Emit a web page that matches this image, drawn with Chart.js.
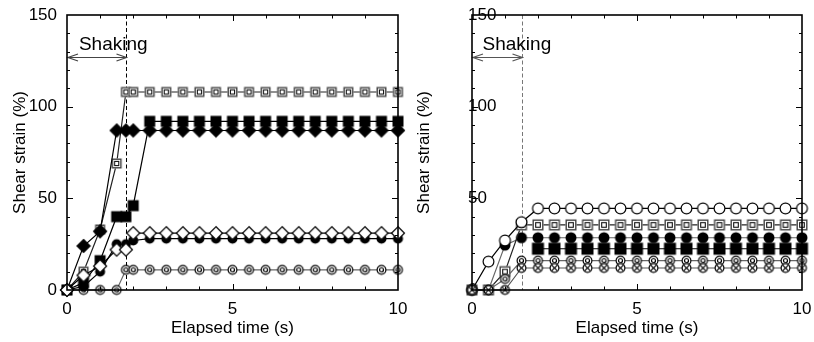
<!DOCTYPE html>
<html>
<head>
<meta charset="utf-8">
<script src="https://cdn.jsdelivr.net/npm/chart.js@4.4.1/dist/chart.umd.min.js"></script>
<style>
  body { margin: 0; background: #fff; }
  #wrap { position: relative; width: 814px; height: 342px; overflow: hidden; background: #fff; }
  canvas { position: absolute; top: 0; }
</style>
</head>
<body>
<div id="wrap">
  <canvas id="chartLeft" width="410" height="342" style="left:0"></canvas>
  <canvas id="chartRight" width="404" height="342" style="left:410px"></canvas>
</div>
<script>
// Tiempos de lectura (s)
const timeLeft = [0, 0.5, 1, 1.5, 1.78, 2, 2.5, 3, 3.5, 4, 4.5, 5, 5.5, 6, 6.5, 7, 7.5, 8, 8.5, 9, 9.5, 10];
const timeRight = [0, 0.5, 1, 1.5, 2, 2.5, 3, 3.5, 4, 4.5, 5, 5.5, 6, 6.5, 7, 7.5, 8, 8.5, 9, 9.5, 10];

// Panel izquierdo: deformacion por corte (%)
const dSquareL  = [0, 10, 33, 69, 108, 108, 108, 108, 108, 108, 108, 108, 108, 108, 108, 108, 108, 108, 108, 108, 108, 108];
const fDiamondL = [0, 24, 32, 87, 87, 87, 87, 87, 87, 87, 87, 87, 87, 87, 87, 87, 87, 87, 87, 87, 87, 87];
const fSquareL  = [0, 4, 16, 40, 40, 46, 92, 92, 92, 92, 92, 92, 92, 92, 92, 92, 92, 92, 92, 92, 92, 92];
const fCircleL  = [0, 2, 10, 25, 25, 27, 28, 28, 28, 28, 28, 28, 28, 28, 28, 28, 28, 28, 28, 28, 28, 28];
const oDiamondL = [0, 8, 13, 22, 22, 31, 31, 31, 31, 31, 31, 31, 31, 31, 31, 31, 31, 31, 31, 31, 31, 31];
const bullL     = [0, 0, 0, 0, 11, 11, 11, 11, 11, 11, 11, 11, 11, 11, 11, 11, 11, 11, 11, 11, 11, 11];

// Panel derecho
const oCircleR = [0, 15.5, 27, 37, 44.5, 44.5, 44.5, 44.5, 44.5, 44.5, 44.5, 44.5, 44.5, 44.5, 44.5, 44.5, 44.5, 44.5, 44.5, 44.5, 44.5];
const dSquareR = [0, 0, 10, 35.5, 35.5, 35.5, 35.5, 35.5, 35.5, 35.5, 35.5, 35.5, 35.5, 35.5, 35.5, 35.5, 35.5, 35.5, 35.5, 35.5, 35.5];
const fCircleR = [0, 0, 24.5, 28.5, 28.5, 28.5, 28.5, 28.5, 28.5, 28.5, 28.5, 28.5, 28.5, 28.5, 28.5, 28.5, 28.5, 28.5, 28.5, 28.5, 28.5];
const fSquareR = [null, null, null, null, 22.5, 22.5, 22.5, 22.5, 22.5, 22.5, 22.5, 22.5, 22.5, 22.5, 22.5, 22.5, 22.5, 22.5, 22.5, 22.5, 22.5];
const bullR    = [0, 0, 6, 16, 16, 16, 16, 16, 16, 16, 16, 16, 16, 16, 16, 16, 16, 16, 16, 16, 16];
const crossR   = [0, 0, 0, 12, 12, 12, 12, 12, 12, 12, 12, 12, 12, 12, 12, 12, 12, 12, 12, 12, 12];

// Etiquetas de los ejes
const xTicks = [0, 5, 10];
const yTicks = [0, 50, 100, 150];
const shakeEndLeft = 1.78;
const shakeEndRight = 1.5;

Chart.defaults.font.family = '"Liberation Sans", Arial, sans-serif';
Chart.defaults.color = "#000";

// Marcadores dibujados en un canvas pequeno
function marker(d, draw) {
  const s = Math.ceil(d) + 3;
  const c = document.createElement("canvas");
  c.width = s;
  c.height = s;
  const g = c.getContext("2d");
  draw(g, s / 2, d / 2);
  return c;
}

const mk = {
  openCircle: (d) => marker(d, (g, c, r) => {
    g.beginPath(); g.arc(c, c, r - 0.6, 0, Math.PI * 2);
    g.fillStyle = "#fff"; g.fill(); g.strokeStyle = "#000"; g.lineWidth = 1.2; g.stroke();
  }),
  fillCircle: (d) => marker(d, (g, c, r) => {
    g.beginPath(); g.arc(c, c, r, 0, Math.PI * 2);
    g.fillStyle = "#000"; g.fill();
  }),
  bull: (d) => marker(d, (g, c, r) => {
    g.beginPath(); g.arc(c, c, r - 0.6, 0, Math.PI * 2);
    g.fillStyle = "#fff"; g.fill(); g.strokeStyle = "#000"; g.lineWidth = 1.2; g.stroke();
    g.beginPath(); g.arc(c, c, r * 0.4, 0, Math.PI * 2); g.stroke();
  }),
  cross: (d) => marker(d, (g, c, r) => {
    g.beginPath(); g.arc(c, c, r - 0.6, 0, Math.PI * 2);
    g.fillStyle = "#fff"; g.fill(); g.strokeStyle = "#000"; g.lineWidth = 1.2; g.stroke();
    const k = (r - 0.6) * Math.SQRT1_2;
    g.beginPath();
    g.moveTo(c - k, c - k); g.lineTo(c + k, c + k);
    g.moveTo(c + k, c - k); g.lineTo(c - k, c + k);
    g.stroke();
  }),
  dSquare: (d) => marker(d, (g, c, r) => {
    g.fillStyle = "#fff"; g.fillRect(c - r, c - r, 2 * r, 2 * r);
    g.strokeStyle = "#444"; g.lineWidth = 1.4; g.strokeRect(c - r + 0.7, c - r + 0.7, 2 * r - 1.4, 2 * r - 1.4);
    const q = r * 0.42;
    g.strokeStyle = "#111"; g.lineWidth = 1.1; g.strokeRect(c - q, c - q, 2 * q, 2 * q);
  }),
  fillSquare: (d) => marker(d, (g, c, r) => {
    g.fillStyle = "#000"; g.fillRect(c - r, c - r, 2 * r, 2 * r);
  }),
  diamond: (d, filled) => marker(d, (g, c, r) => {
    g.beginPath();
    g.moveTo(c, c - r); g.lineTo(c + r, c); g.lineTo(c, c + r); g.lineTo(c - r, c); g.closePath();
    g.fillStyle = filled ? "#000" : "#fff"; g.fill();
    g.strokeStyle = "#000"; g.lineWidth = 1.2; g.stroke();
  }),
};

function serie(times, values, style, lineColor) {
  return {
    data: times.map((t, i) => ({ x: t, y: values[i] })),
    showLine: true,
    borderColor: lineColor,
    borderWidth: 1.2,
    pointStyle: style,
    pointRadius: 5,
    pointHoverRadius: 5,
    clip: false,
    spanGaps: false,
  };
}

// Marco, marcas internas, linea de fin de sacudida y flecha
const decorPlugin = {
  id: "decor",
  beforeDatasetsDraw(chart, args, o) {
    const { ctx, chartArea: a, scales: { x, y } } = chart;
    const xs = Math.round(x.getPixelForValue(o.shakeEnd)) + 0.5;
    ctx.save();
    ctx.strokeStyle = o.dashColor;
    ctx.lineWidth = 1;
    ctx.setLineDash([4, 2.5]);
    ctx.beginPath();
    ctx.moveTo(xs, a.top);
    ctx.lineTo(xs, a.bottom);
    ctx.stroke();
    ctx.setLineDash([]);

    const ya = Math.round(y.getPixelForValue(o.arrowY)) + 0.5;
    const x0 = a.left + 1;
    ctx.strokeStyle = o.arrowColor;
    ctx.lineWidth = 1.2;
    ctx.beginPath();
    ctx.moveTo(x0, ya); ctx.lineTo(xs, ya);
    ctx.moveTo(x0 + 10, ya - 3.5); ctx.lineTo(x0, ya); ctx.lineTo(x0 + 10, ya + 3.5);
    ctx.moveTo(xs - 10, ya - 3.5); ctx.lineTo(xs, ya); ctx.lineTo(xs - 10, ya + 3.5);
    ctx.stroke();

    ctx.fillStyle = "#000";
    ctx.font = '19px "Liberation Sans", Arial, sans-serif';
    ctx.textBaseline = "alphabetic";
    ctx.fillText("Shaking", x.getPixelForValue(o.labelX), y.getPixelForValue(o.labelY));
    ctx.restore();
  },
  afterDatasetsDraw(chart) {
    const { ctx, chartArea: a, scales: { x, y } } = chart;
    ctx.save();
    ctx.strokeStyle = "#000";
    ctx.lineWidth = 1;
    ctx.beginPath();
    for (let v = 10; v < 150; v += 10) {
      const py = Math.round(y.getPixelForValue(v)) + 0.5;
      const len = v % 50 === 0 ? 6 : 3;
      ctx.moveTo(a.left, py); ctx.lineTo(a.left + len, py);
      ctx.moveTo(a.right, py); ctx.lineTo(a.right - len, py);
    }
    for (let v = 1; v < 10; v++) {
      const px = Math.round(x.getPixelForValue(v)) + 0.5;
      const len = v % 5 === 0 ? 6 : 3.5;
      ctx.moveTo(px, a.bottom); ctx.lineTo(px, a.bottom - len);
      ctx.moveTo(px, a.top); ctx.lineTo(px, a.top + len);
    }
    ctx.stroke();
    ctx.lineWidth = 1.6;
    ctx.strokeRect(a.left, a.top, a.right - a.left, a.bottom - a.top);
    ctx.restore();
  },
};

function opciones(yWidth, titlePad, mirror, decor) {
  return {
    responsive: false,
    animation: false,
    devicePixelRatio: 1,
    layout: { padding: { top: 15, right: 12, left: 0, bottom: 0 } },
    plugins: { legend: { display: false }, tooltip: { enabled: false }, decor: decor },
    events: [],
    scales: {
      x: {
        type: "linear",
        min: 0,
        max: 10,
        grid: { display: false },
        border: { display: false },
        afterBuildTicks: (s) => { s.ticks = xTicks.map((v) => ({ value: v })); },
        afterFit: (s) => { s.height = 52; },
        ticks: { font: { size: 17 }, padding: 1, maxRotation: 0 },
        title: { display: true, text: "Elapsed time (s)", font: { size: 17 }, padding: { top: 0, bottom: 3 } },
      },
      y: {
        min: 0,
        max: 150,
        grid: { display: false },
        border: { display: false },
        afterBuildTicks: (s) => { s.ticks = yTicks.map((v) => ({ value: v })); },
        afterFit: (s) => { s.width = yWidth; },
        ticks: mirror
          ? { font: { size: 17 }, mirror: true, padding: -4, crossAlign: "near" }
          : { font: { size: 17 }, padding: 2 },
        title: { display: true, text: "Shear strain (%)", font: { size: 17 }, padding: { top: titlePad, bottom: 0 } },
      },
    },
  };
}

new Chart(document.getElementById("chartLeft"), {
  type: "scatter",
  data: {
    datasets: [
      serie(timeLeft, oDiamondL, mk.diamond(13, false), "#000"),
      serie(timeLeft, fCircleL, mk.fillCircle(10), "#000"),
      serie(timeLeft, fSquareL, mk.fillSquare(11), "#000"),
      serie(timeLeft, fDiamondL, mk.diamond(13, true), "#000"),
      serie(timeLeft, dSquareL, mk.dSquare(10), "#222"),
      serie(timeLeft, bullL, mk.bull(10), "#666"),
    ],
  },
  options: opciones(67, 10, false, {
    shakeEnd: shakeEndLeft, arrowY: 127, labelX: 0.36, labelY: 131,
    dashColor: "#000", arrowColor: "#444",
  }),
  plugins: [decorPlugin],
});

new Chart(document.getElementById("chartRight"), {
  type: "scatter",
  data: {
    datasets: [
      serie(timeRight, crossR, mk.cross(10), "#555"),
      serie(timeRight, bullR, mk.bull(10), "#666"),
      serie(timeRight, oCircleR, mk.openCircle(12), "#000"),
      serie(timeRight, dSquareR, mk.dSquare(11), "#222"),
      serie(timeRight, fCircleR, mk.fillCircle(11), "#666"),
      serie(timeRight, fSquareR, mk.fillSquare(12), "#000"),
    ],
  },
  options: opciones(62, 4, true, {
    shakeEnd: shakeEndRight, arrowY: 127, labelX: 0.32, labelY: 131,
    dashColor: "#777", arrowColor: "#555",
  }),
  plugins: [decorPlugin],
});
</script>
</body>
</html>
